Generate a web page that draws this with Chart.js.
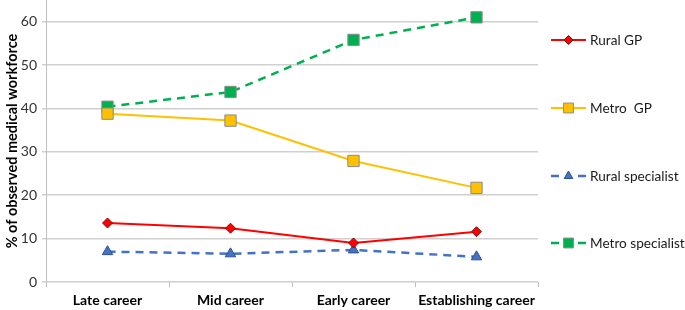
<!DOCTYPE html>
<html>
<head>
<meta charset="utf-8">
<script src="https://cdn.jsdelivr.net/npm/chart.js@4.4.0/dist/chart.umd.min.js"></script>
<style>
  html, body { margin: 0; padding: 0; background: #fff; }
  #wrap { position: relative; width: 685px; height: 310px; }
</style>
</head>
<body>
<div id="wrap"><canvas id="lineChart"></canvas></div>
<script>
var categorias = ["Late career", "Mid career", "Early career", "Establishing career"];

var ruralGP = [13.6, 12.4, 9.0, 11.6];
var metroGP = [38.8, 37.2, 27.9, 21.7];
var ruralEspecialista = [7.0, 6.5, 7.4, 5.8];
var metroEspecialista = [40.4, 43.8, 55.8, 61.0];

var fonte = "Lato, 'Open Sans', sans-serif";

// Legenda desenhada à mão, à direita do gráfico
var legendaDireita = {
  id: "legendaDireita",
  afterDraw: function (chart) {
    var ctx = chart.ctx;
    var posY = [40, 108, 176, 243];
    chart.data.datasets.forEach(function (ds, i) {
      var y = posY[i];
      ctx.save();
      ctx.strokeStyle = ds.borderColor;
      ctx.lineWidth = ds.borderWidth;
      ctx.beginPath();
      if (ds.borderDash && ds.borderDash.length) {
        ctx.moveTo(551, y);
        ctx.lineTo(559, y);
        ctx.moveTo(578, y);
        ctx.lineTo(586, y);
      } else {
        ctx.moveTo(551, y);
        ctx.lineTo(586, y);
      }
      ctx.stroke();

      ctx.fillStyle = ds.pointBackgroundColor;
      ctx.strokeStyle = ds.pointBorderColor;
      ctx.lineWidth = 1;
      Chart.helpers.drawPoint(ctx, {
        pointStyle: ds.pointStyle,
        radius: ds.legendRadius,
        borderWidth: 1,
        rotation: 0,
      }, 568.5, y);

      ctx.fillStyle = "#1a1a1a";
      ctx.font = "13.6px " + fonte;
      ctx.textBaseline = "middle";
      ctx.textAlign = "left";
      ctx.fillText(ds.label, 590, y + 1);
      ctx.restore();
    });
  },
};

new Chart(document.getElementById("lineChart"), {
  type: "line",

  data: {
    labels: categorias,

    datasets: [
      {
        label: "Rural GP",
        data: ruralGP,
        borderColor: "#ff0000",
        borderWidth: 2,
        pointStyle: "rectRot",
        pointRadius: 5,
        legendRadius: 4.5,
        pointBackgroundColor: "#ff0000",
        pointBorderColor: "#7a1010",
        pointBorderWidth: 1,
      },
      {
        label: "Metro  GP",
        data: metroGP,
        borderColor: "#ffc000",
        borderWidth: 2,
        pointStyle: "rect",
        pointRadius: 8,
        legendRadius: 7,
        pointBackgroundColor: "#ffc000",
        pointBorderColor: "#8c8c8c",
        pointBorderWidth: 1,
      },
      {
        label: "Rural specialist",
        data: ruralEspecialista,
        borderColor: "#4472c4",
        borderWidth: 2.5,
        borderDash: [8, 6],
        pointStyle: "triangle",
        pointRadius: 6,
        legendRadius: 5,
        pointBackgroundColor: "#4472c4",
        pointBorderColor: "#2f528f",
        pointBorderWidth: 1,
      },
      {
        label: "Metro specialist",
        data: metroEspecialista,
        borderColor: "#00b050",
        borderWidth: 2.5,
        borderDash: [8, 6],
        pointStyle: "rect",
        pointRadius: 8,
        legendRadius: 7,
        pointBackgroundColor: "#00b050",
        pointBorderColor: "#8c8c8c",
        pointBorderWidth: 1,
      },
    ],
  },

  options: {
    responsive: true,
    maintainAspectRatio: false,
    animation: false,

    layout: {
      autoPadding: false,
      padding: { left: 4, right: 147, top: 0, bottom: 0 },
    },

    plugins: {
      legend: { display: false },
      tooltip: { enabled: false },
    },

    scales: {
      x: {
        offset: true,
        grid: {
          offset: true,
          drawOnChartArea: false,
          drawTicks: true,
          tickLength: 5,
          color: "#bfbfbf",
        },
        border: { display: false },
        ticks: {
          color: "#000",
          padding: 5,
          maxRotation: 0,
          autoSkip: false,
          font: { family: fonte, size: 14, weight: "bold" },
        },
        afterFit: function (scale) {
          scale.height = 28;
          scale.paddingLeft = 0;
          scale.paddingRight = 0;
        },
      },

      y: {
        min: 0,
        max: 65,
        grid: {
          color: function (c) {
            return c.tick && c.tick.value > 60 ? "rgba(0,0,0,0)" : "#d0d0d0";
          },
          lineWidth: 1.5,
          tickLength: 4,
        },
        border: { display: true, color: "#bfbfbf", width: 1 },
        ticks: {
          stepSize: 10,
          color: "#333",
          padding: 5,
          font: { family: fonte, size: 14 },
          callback: function (value) {
            return value > 60 ? "" : value;
          },
        },
        title: {
          display: true,
          text: "% of observed medical workforce",
          color: "#000",
          padding: { top: 0, bottom: 2 },
          font: { family: fonte, size: 14.5, weight: "bold" },
        },
        afterFit: function (scale) {
          scale.width = 42;
          scale.paddingTop = 0;
          scale.paddingBottom = 0;
        },
      },
    },
  },

  plugins: [legendaDireita],
});
</script>
</body>
</html>
